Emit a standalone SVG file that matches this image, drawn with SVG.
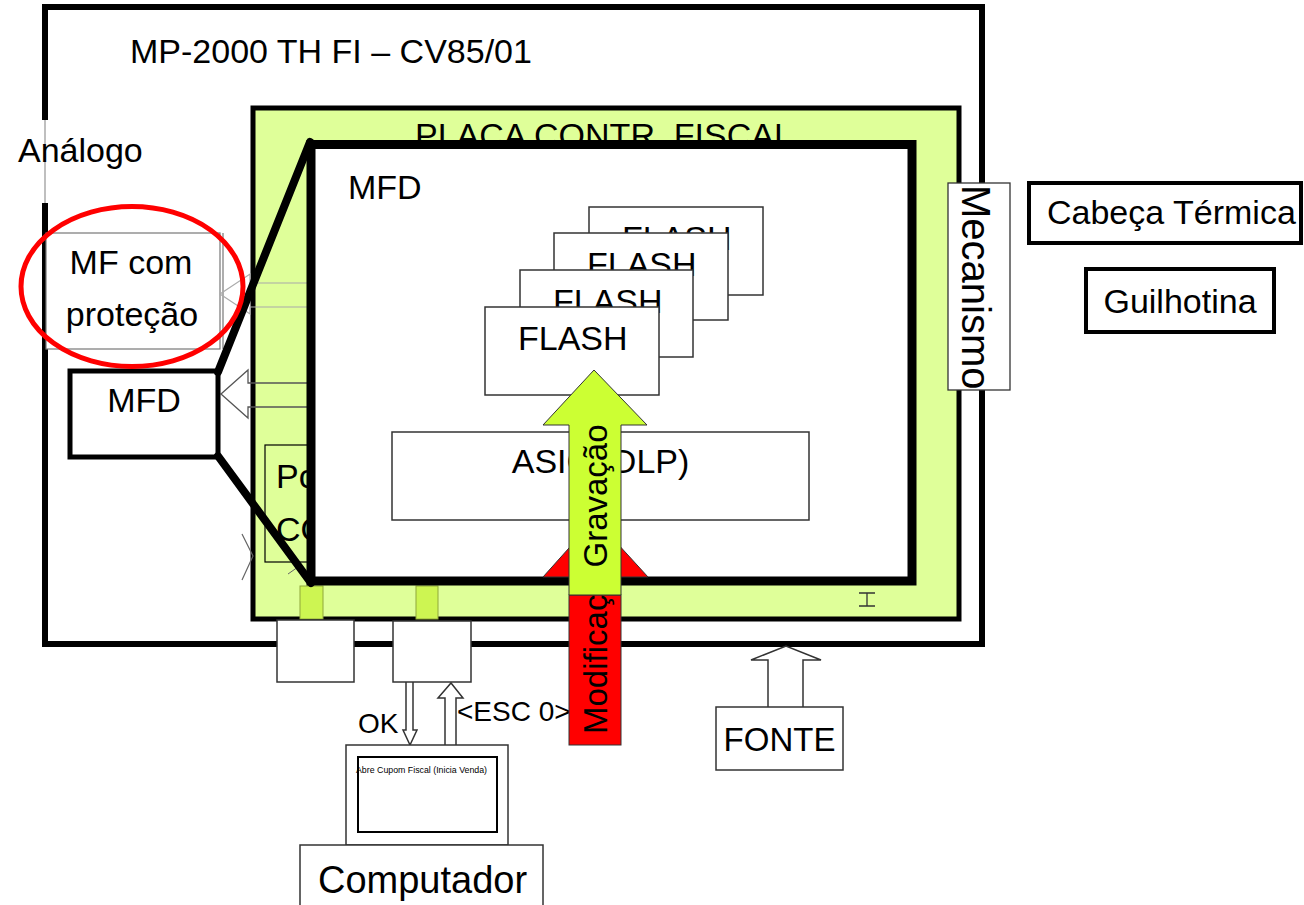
<svg xmlns="http://www.w3.org/2000/svg" width="1304" height="905" viewBox="0 0 1304 905">
<style>
text{font-family:"Liberation Sans",Arial,sans-serif;fill:#000}
.t34{font-size:34px}
.thin{fill:#fff;stroke:#333;stroke-width:1.5}
.thick{fill:#fff;stroke:#000;stroke-width:4}
.hollow{fill:#fff;stroke:#333;stroke-width:1.5}
</style>
<defs>
<clipPath id="mecClip"><rect x="948" y="183" width="62" height="207"/></clipPath>
</defs>
<rect width="1304" height="905" fill="#fff"/>

<g id="outer">
<path d="M45,120 V7 H982 V644 H45 V203" fill="none" stroke="#000" stroke-width="6"/>
<line x1="45" y1="120" x2="45" y2="203" stroke="#aaa" stroke-width="1.5"/>
<text class="t34" x="130" y="63">MP-2000 TH FI – CV85/01</text>
</g>
<g id="analogo">
<text class="t34" x="18" y="162">Análogo</text>
</g>

<g id="mf-protecao">
<rect x="46" y="233" width="174" height="116" fill="#fff" stroke="#777" stroke-width="1.2"/>
<line x1="223" y1="233" x2="223" y2="349" stroke="#777" stroke-width="1.2"/>
<text class="t34" x="131" y="274" text-anchor="middle">MF com</text>
<text class="t34" x="132" y="326" text-anchor="middle">proteção</text>
</g>

<g id="placa">
<rect x="253" y="108" width="706" height="511" fill="#dfff99" stroke="#000" stroke-width="5"/>
<text class="t34" x="415" y="147">PLACA CONTR. FISCAL</text>
<rect x="265" y="445" width="55" height="117" fill="none" stroke="#000" stroke-width="1.2"/>
<text class="t34" x="276" y="488">Po</text>
<text class="t34" x="276" y="541">CO</text>
<rect x="300" y="586" width="23" height="33" fill="#cdf552" stroke="#8fa83a" stroke-width="1"/>
<rect x="416" y="586" width="22" height="33" fill="#cdf552" stroke="#8fa83a" stroke-width="1"/>
</g>

<g id="connectors">
<path d="M310,283 H250 V274 L220,294 L250,314 V307 H310" fill="none" stroke="#aaa" stroke-width="1.2"/>
<path d="M310,383 H248 V370 L221,394 L248,418 V407 H310" fill="none" stroke="#555" stroke-width="1.3"/>
<polyline points="242,534 253,556 242,580" fill="none" stroke="#666" stroke-width="1.2"/>
<line x1="288" y1="574" x2="298" y2="567" stroke="#666" stroke-width="1"/>
<path d="M406,682 V730 H403 L410,745 L417,730 H413 V682" class="hollow"/>
<path d="M445,745 V698 H438 L451,683 L463,698 H456 V745" class="hollow"/>
<path d="M768,707 V660 H751 L786,646 L821,660 H803 V707" class="hollow"/>
<text x="358" y="733" style="font-size:28px">OK</text>
<text x="457" y="721" style="font-size:28px">&lt;ESC 0&gt;</text>
</g>

<g id="mfd-big">
<rect x="311" y="144.5" width="601" height="436.5" fill="#fff" stroke="#000" stroke-width="9"/>
<text class="t34" x="348" y="199">MFD</text>
</g>

<g id="flash4"><rect x="589" y="207" width="174" height="88" class="thin"/><text class="t34" x="622" y="250">FLASH</text></g>
<g id="flash3"><rect x="554" y="233" width="174" height="87" class="thin"/><text class="t34" x="587" y="276">FLASH</text></g>
<g id="flash2"><rect x="520" y="270" width="173" height="87" class="thin"/><text class="t34" x="553" y="313">FLASH</text></g>
<g id="flash1"><rect x="485" y="307" width="174" height="88" class="thin"/><text class="t34" x="518" y="350">FLASH</text></g>

<g id="asic">
<rect x="392" y="432" width="417" height="88" class="thin"/>
<text class="t34" x="600.5" y="473" text-anchor="middle">ASIC (DLP)</text>
</g>

<g id="cursor">
<path d="M859,593 H875 M867,593 V606 M859,606 H875" stroke="#333" stroke-width="1.3" fill="none"/>
</g>

<g id="box-port1"><rect x="277" y="620" width="77" height="62" class="thin"/></g>
<g id="box-port2"><rect x="393" y="621" width="78" height="61" class="thin"/></g>

<g id="modificacao">
<polygon points="543,577 595,519 648,577" fill="#ff0000" stroke="#333" stroke-width="1"/>
<rect x="569" y="595" width="52" height="150" fill="#ff0000" stroke="#333" stroke-width="1"/>
<text transform="translate(607,734) rotate(-90)" style="font-size:33px">Modificação</text>
</g>
<g id="gravacao">
<path d="M569,595 V425 H543 L594,370 L647,425 H621 V595 Z" fill="#ccff33" stroke="#333" stroke-width="1"/>
<text transform="translate(607,496) rotate(-90)" text-anchor="middle" style="font-size:33px">Gravação</text>
</g>

<g id="mfd-small">
<rect x="70" y="371" width="148" height="86" fill="#fff" stroke="#000" stroke-width="5"/>
<text class="t34" x="144" y="412" text-anchor="middle">MFD</text>
</g>
<g id="zoom-lines">
<line x1="218" y1="372" x2="310" y2="142" stroke="#000" stroke-width="8" stroke-linecap="round"/>
<line x1="218" y1="456" x2="311" y2="583" stroke="#000" stroke-width="8" stroke-linecap="round"/>
</g>

<g id="highlight">
<ellipse cx="132" cy="286.5" rx="111" ry="80" fill="none" stroke="#ff0000" stroke-width="5"/>
</g>

<g id="mecanismo">
<rect x="948" y="183" width="62" height="207" fill="#fff" stroke="#333" stroke-width="1.3"/>
<g clip-path="url(#mecClip)">
<text transform="translate(962,185) rotate(90)" style="font-size:40px">Mecanismo</text>
</g>
</g>
<g id="cabeca">
<rect x="1029" y="183" width="272" height="60" class="thick"/>
<text class="t34" x="1047" y="224">Cabeça Térmica</text>
</g>
<g id="guilhotina">
<rect x="1086" y="269" width="188" height="63" class="thick"/>
<text class="t34" x="1180" y="313" text-anchor="middle">Guilhotina</text>
</g>

<g id="fonte">
<rect x="716" y="707" width="127" height="63" class="thin"/>
<text class="t34" x="779.5" y="751" text-anchor="middle" style="font-size:33px">FONTE</text>
</g>

<g id="computador">
<rect x="346" y="745" width="162" height="100" class="thin"/>
<rect x="358" y="757" width="139" height="75" fill="#fff" stroke="#000" stroke-width="2"/>
<text x="356" y="773" style="font-size:8.8px">Abre Cupom Fiscal (Inicia Venda)</text>
<rect x="300" y="845" width="243" height="70" class="thin"/>
<text x="318" y="893" style="font-size:38px">Computador</text>
</g>
</svg>
